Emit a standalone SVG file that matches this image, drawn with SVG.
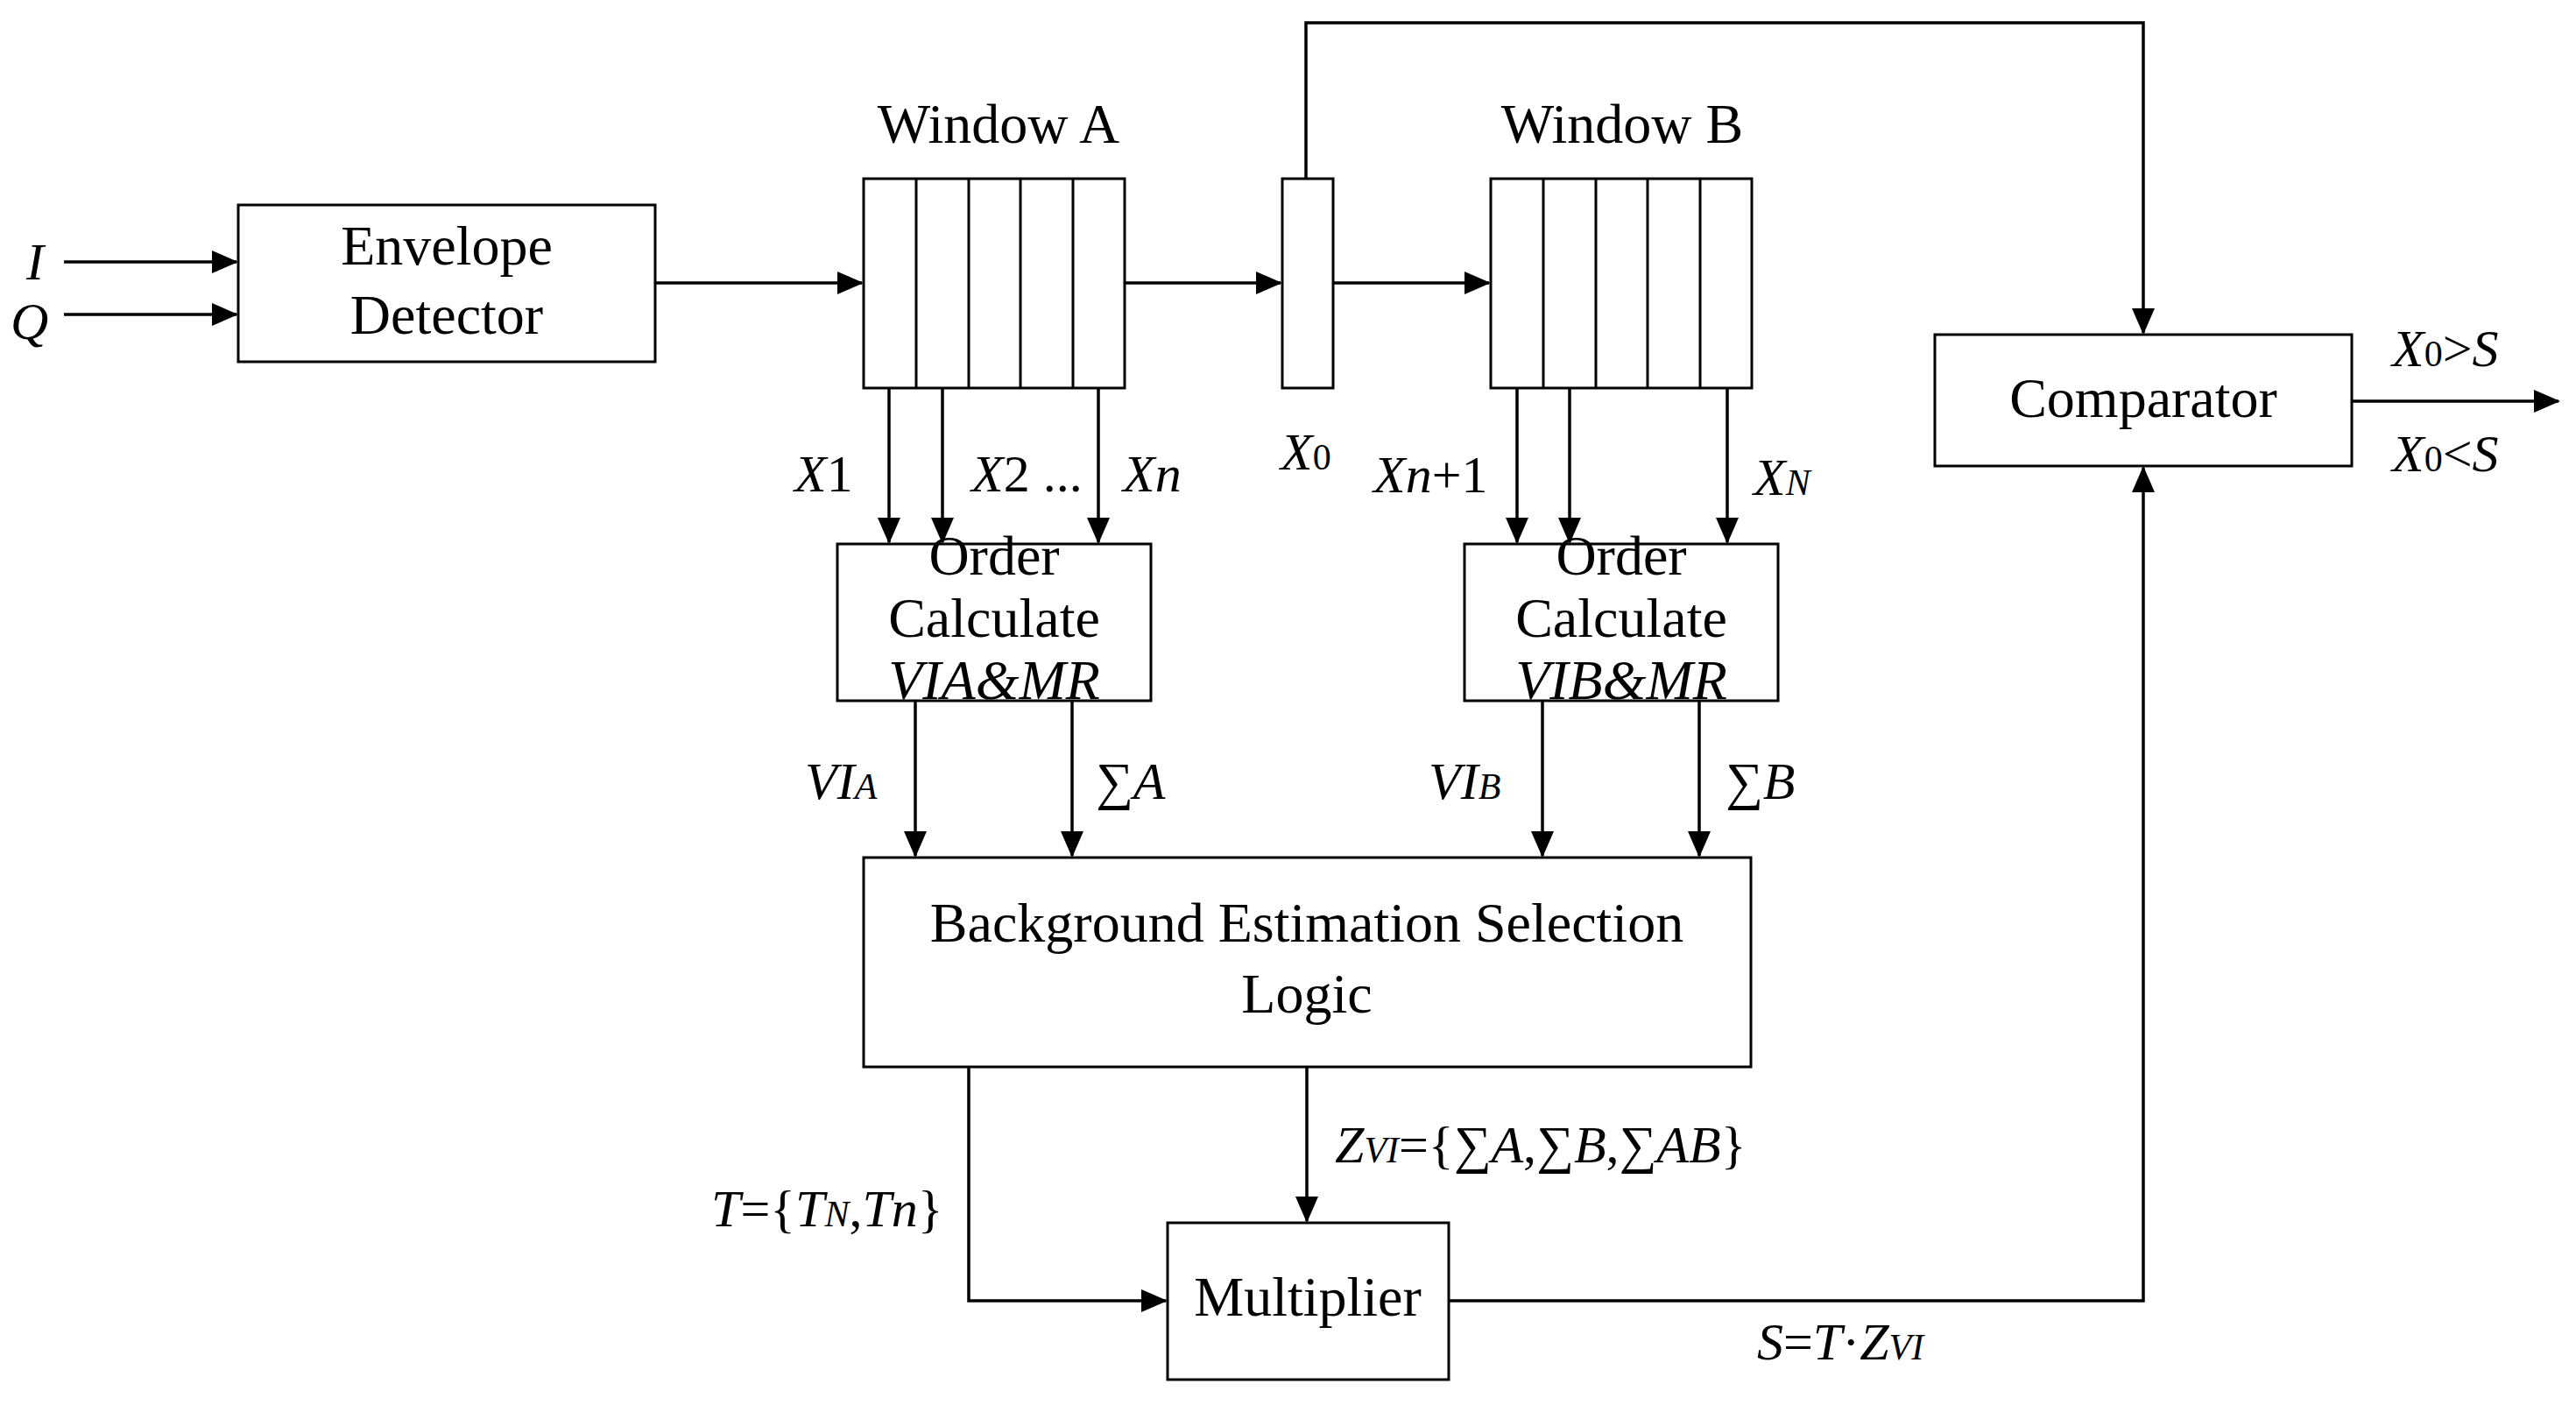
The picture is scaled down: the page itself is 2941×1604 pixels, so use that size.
<svg xmlns="http://www.w3.org/2000/svg" width="2941" height="1604" viewBox="0 0 2941 1604">
<style>
.box{fill:#fff;stroke:#000;stroke-width:3}
.ln{fill:none;stroke:#000;stroke-width:3.5}
.t{font-family:"Liberation Serif","Times New Roman",serif;font-size:64px;fill:#000;text-anchor:middle}
.l{font-family:"Liberation Serif","Times New Roman",serif;font-size:60px;fill:#000;font-style:italic}
.s{font-size:42px}
.r{font-style:normal}
</style>
<defs>
<marker id="ah" markerUnits="userSpaceOnUse" markerWidth="30" markerHeight="26" refX="28" refY="13" orient="auto">
<path d="M0,0 L30,13 L0,26 Z" fill="#000"/>
</marker>
</defs>
<rect width="2941" height="1604" fill="#fff"/>
<g id="connectors">
<path class="ln" d="M73,299 H270" marker-end="url(#ah)"/>
<path class="ln" d="M73,359 H270" marker-end="url(#ah)"/>
<path class="ln" d="M748,323 H984" marker-end="url(#ah)"/>
<path class="ln" d="M1284,323 H1462" marker-end="url(#ah)"/>
<path class="ln" d="M1522,323 H1700" marker-end="url(#ah)"/>
<path class="ln" d="M1491,204 V26 H2447 V380" marker-end="url(#ah)"/>
<path class="ln" d="M1015,443 V619" marker-end="url(#ah)"/>
<path class="ln" d="M1076,443 V619" marker-end="url(#ah)"/>
<path class="ln" d="M1254,443 V619" marker-end="url(#ah)"/>
<path class="ln" d="M1732,443 V619" marker-end="url(#ah)"/>
<path class="ln" d="M1792,443 V619" marker-end="url(#ah)"/>
<path class="ln" d="M1972,443 V619" marker-end="url(#ah)"/>
<path class="ln" d="M1045,800 V977" marker-end="url(#ah)"/>
<path class="ln" d="M1224,800 V977" marker-end="url(#ah)"/>
<path class="ln" d="M1761,800 V977" marker-end="url(#ah)"/>
<path class="ln" d="M1940,800 V977" marker-end="url(#ah)"/>
<path class="ln" d="M1106,1218 V1485 H1331" marker-end="url(#ah)"/>
<path class="ln" d="M1492,1218 V1394" marker-end="url(#ah)"/>
<path class="ln" d="M1654,1485 H2447 V534" marker-end="url(#ah)"/>
<path class="ln" d="M2685,458 H2921" marker-end="url(#ah)"/>
</g>
<g id="envelope">
<rect class="box" x="272" y="234" width="476" height="179"/>
<text class="t" x="510" y="302">Envelope</text>
<text class="t" x="510" y="381">Detector</text>
</g>
<g id="windowA">
<rect class="box" x="986" y="204" width="298" height="239"/>
<path class="box" d="M1046,204V443M1106,204V443M1165,204V443M1225,204V443"/>
<text class="t" x="1140" y="163">Window A</text>
</g>
<g id="x0cell">
<rect class="box" x="1464" y="204" width="58" height="239"/>
</g>
<g id="windowB">
<rect class="box" x="1702" y="204" width="298" height="239"/>
<path class="box" d="M1762,204V443M1822,204V443M1881,204V443M1941,204V443"/>
<text class="t" x="1852" y="163">Window B</text>
</g>
<g id="orderA">
<rect class="box" x="956" y="621" width="358" height="179"/>
<text class="t" x="1135" y="656">Order</text>
<text class="t" x="1135" y="727">Calculate</text>
<text class="t" x="1135" y="798" font-style="italic">VIA&amp;MR</text>
</g>
<g id="orderB">
<rect class="box" x="1672" y="621" width="358" height="179"/>
<text class="t" x="1851" y="656">Order</text>
<text class="t" x="1851" y="727">Calculate</text>
<text class="t" x="1851" y="798" font-style="italic">VIB&amp;MR</text>
</g>
<g id="comparator">
<rect class="box" x="2209" y="382" width="476" height="150"/>
<text class="t" x="2447" y="476">Comparator</text>
</g>
<g id="besl">
<rect class="box" x="986" y="979" width="1013" height="239"/>
<text class="t" x="1492" y="1075">Background Estimation Selection</text>
<text class="t" x="1492" y="1156">Logic</text>
</g>
<g id="multiplier">
<rect class="box" x="1333" y="1396" width="321" height="179"/>
<text class="t" x="1493" y="1502">Multiplier</text>
</g>
<g id="labels">
<text class="l" x="30" y="319">I</text>
<text class="l" x="12" y="387">Q</text>
<text class="l" x="907" y="561">X<tspan class="r">1</tspan></text>
<text class="l" x="1109" y="561">X<tspan class="r">2 ...</tspan></text>
<text class="l" x="1282" y="561">Xn</text>
<text class="l" x="1462" y="536">X<tspan class="r s">0</tspan></text>
<text class="l" x="1568" y="562">Xn<tspan class="r">+1</tspan></text>
<text class="l" x="2002" y="565">X<tspan class="s">N</tspan></text>
<text class="l" x="2731" y="418">X<tspan class="r s">0</tspan><tspan class="r">&gt;</tspan>S</text>
<text class="l" x="2731" y="538">X<tspan class="r s">0</tspan><tspan class="r">&lt;</tspan>S</text>
<text class="l" x="919" y="912">VI<tspan class="s">A</tspan></text>
<text class="l" x="1251" y="912"><tspan class="r">∑</tspan>A</text>
<text class="l" x="1631" y="912">VI<tspan class="s">B</tspan></text>
<text class="l" x="1970" y="912"><tspan class="r">∑</tspan>B</text>
<text class="l" x="1524" y="1327">Z<tspan class="s">VI</tspan><tspan class="r">={∑</tspan>A<tspan class="r">,∑</tspan>B<tspan class="r">,∑</tspan>AB<tspan class="r">}</tspan></text>
<text class="l" x="812" y="1400">T<tspan class="r">={</tspan>T<tspan class="s">N</tspan><tspan class="r">,</tspan>Tn<tspan class="r">}</tspan></text>
<text class="l" x="2006" y="1552">S<tspan class="r">=</tspan>T<tspan class="r">·</tspan>Z<tspan class="s">VI</tspan></text>
</g>
</svg>
